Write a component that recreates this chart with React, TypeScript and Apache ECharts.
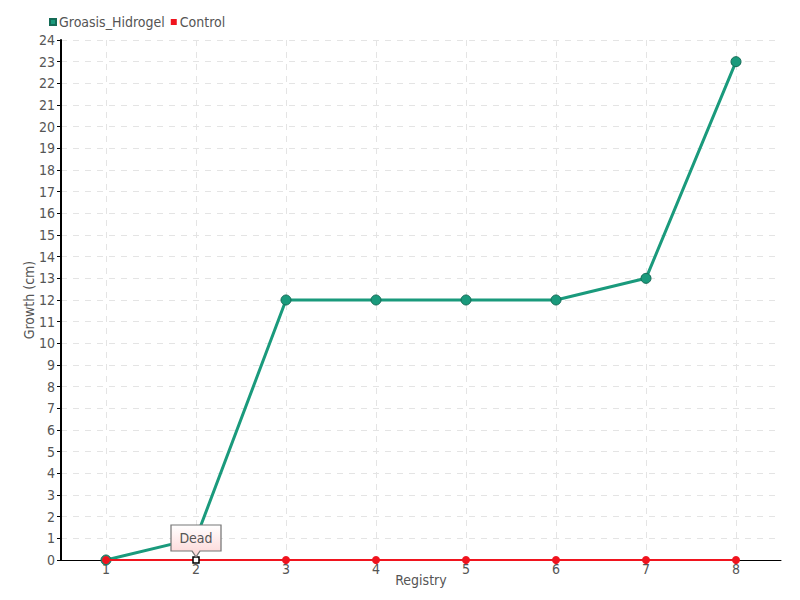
import React, { useEffect, useRef } from "react";
import * as echarts from "echarts";

const categories = ["1", "2", "3", "4", "5", "6", "7", "8"];
const groasisValues = [0, 1, 12, 12, 12, 12, 13, 23];
const controlValues = [0, 0, 0, 0, 0, 0, 0, 0];
const deadIndex = 1;
const deadLabel = "Dead";

const FONT = "'DejaVu Sans Condensed', 'Liberation Sans Narrow', 'DejaVu Sans', sans-serif";
const TEAL = "#1a9a7c";
const RED = "#f0141e";

export default function App() {
  const ref = useRef<HTMLDivElement>(null);
  useEffect(() => {
    if (!ref.current) return;
    const chart = echarts.init(ref.current, null, { renderer: "svg" });
    const controlData = controlValues.map((v, i) =>
      i === deadIndex
        ? {
            value: v,
            symbol: "rect",
            symbolSize: 6,
            itemStyle: { color: "#ffffff", borderColor: "#000000", borderWidth: 1.5 },
          }
        : v
    );
    chart.setOption({
      animation: false,
      textStyle: { fontFamily: FONT, color: "#555" },
      legend: {
        left: 44,
        top: 10,
        itemWidth: 6,
        itemHeight: 6,
        itemGap: 6,
        icon: "rect",
        textStyle: { fontFamily: FONT, fontSize: 14, color: "#555", padding: [0, 0, 0, -2] },
        data: ["Groasis_Hidrogel", "Control"],
      },
      grid: { left: 61, right: 19, top: 40, bottom: 40, containLabel: false },
      xAxis: {
        type: "category",
        data: categories,
        name: "Registry",
        nameLocation: "middle",
        nameGap: 13,
        nameMoveOverlap: false,
        nameTextStyle: { fontFamily: FONT, fontSize: 14, color: "#555" },
        axisLine: { lineStyle: { color: "#000", width: 1 } },
        axisTick: { alignWithLabel: true, length: 5, lineStyle: { color: "#555" } },
        axisLabel: { fontFamily: FONT, fontSize: 14, color: "#555", margin: 2 },
        splitLine: {
          show: true,
          alignWithLabel: true,
          lineStyle: { type: [6, 6], color: "#e4e4e4" },
        },
      },
      yAxis: {
        type: "value",
        min: 0,
        max: 24,
        interval: 1,
        name: "Growth (cm)",
        nameLocation: "middle",
        nameGap: 25,
        nameMoveOverlap: false,
        nameTextStyle: { fontFamily: FONT, fontSize: 14, color: "#555" },
        axisLine: { show: true, lineStyle: { color: "#000", width: 2 } },
        axisTick: { show: true, length: 4, lineStyle: { color: "#000" } },
        axisLabel: { fontFamily: FONT, fontSize: 14, color: "#555", margin: 6 },
        splitLine: { show: true, lineStyle: { type: [6, 6], color: "#e4e4e4" } },
      },
      series: [
        {
          name: "Groasis_Hidrogel",
          type: "line",
          data: groasisValues,
          symbol: "circle",
          symbolSize: 10,
          showAllSymbol: true,
          lineStyle: { color: TEAL, width: 3 },
          itemStyle: { color: TEAL, borderColor: "#146b56", borderWidth: 1 },
          z: 2,
        },
        {
          name: "Control",
          type: "line",
          data: controlData,
          symbol: "circle",
          symbolSize: 8,
          lineStyle: { color: RED, width: 2 },
          itemStyle: { color: RED },
          z: 3,
          markPoint: {
            silent: true,
            data: [
              {
                coord: [deadIndex, controlValues[deadIndex]],
                symbol: "path://M0,0 L50,0 L50,26 L29,26 L25,32 L21,26 L0,26 Z",
                symbolSize: [50, 32],
                symbolOffset: [0, -19],
                itemStyle: {
                  color: new echarts.graphic.LinearGradient(0, 0, 0, 1, [
                    { offset: 0, color: "#ffffff" },
                    { offset: 1, color: "#fdd4d4" },
                  ]),
                  borderColor: "#777",
                  borderWidth: 1,
                },
                label: {
                  show: true,
                  formatter: deadLabel,
                  position: "inside",
                  offset: [0, -3],
                  fontFamily: FONT,
                  fontSize: 14,
                  color: "#555",
                },
              },
            ],
          },
        },
      ],
    });
    return () => chart.dispose();
  }, []);
  return <div ref={ref} style={{ width: 800, height: 600, position: "absolute", left: 0, top: 0 }} />;
}
